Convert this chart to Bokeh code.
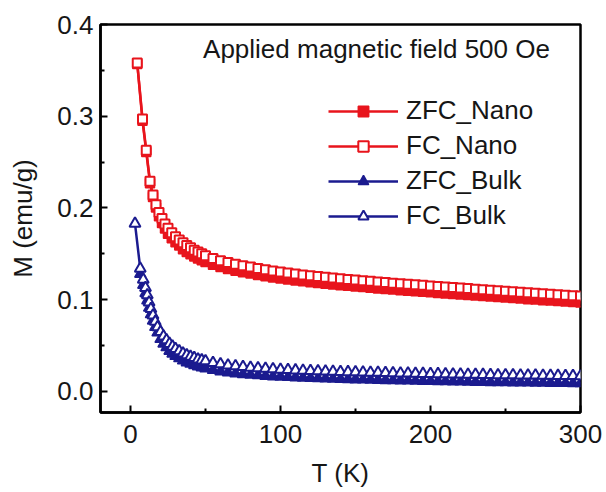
from bokeh.plotting import figure
from bokeh.models import Range1d, FixedTicker, Legend, LegendItem, Label, NumeralTickFormatter
from bokeh.embed import file_html
from bokeh.resources import INLINE

# ---------------- data ----------------
T_tail = [50, 55, 60, 65, 70, 75, 80, 85, 90, 95, 100, 105, 110, 115, 120, 125, 130, 135, 140, 145,
          150, 155, 160, 165, 170, 175, 180, 185, 190, 195, 200, 205, 210, 215, 220, 225, 230, 235,
          240, 245, 250, 255, 260, 265, 270, 275, 280, 285, 290, 295, 300]

T_nano = [4.5, 8, 10.5, 13, 15, 17, 19, 21, 23, 25, 27.5, 30, 32.5, 35, 37.5, 40, 42.5, 45, 47.5] + T_tail
zfc_nano = [0.357, 0.295, 0.261, 0.227, 0.212, 0.2005, 0.191, 0.1835, 0.1775, 0.172, 0.167, 0.1625,
            0.159, 0.155, 0.152, 0.1495, 0.147, 0.145, 0.143] + \
           [0.141, 0.138, 0.1355, 0.1335, 0.1315, 0.13, 0.1285, 0.127, 0.1255, 0.1243,
            0.1231, 0.122, 0.121, 0.12, 0.1191, 0.1182, 0.1174, 0.1166, 0.1158, 0.1151,
            0.1144, 0.1137, 0.113, 0.1123, 0.1117, 0.111, 0.1104, 0.1098, 0.1092, 0.1086,
            0.108, 0.1074, 0.1068, 0.1062, 0.1056, 0.1051, 0.1045, 0.1039, 0.1034, 0.1028,
            0.1023, 0.1017, 0.1012, 0.1006, 0.1001, 0.0995, 0.099, 0.0985, 0.0979, 0.0974,
            0.0969]
fc_nano = [0.358, 0.297, 0.263, 0.229, 0.214, 0.2035, 0.195, 0.1885, 0.1825, 0.178, 0.173, 0.1685,
           0.165, 0.162, 0.159, 0.1565, 0.154, 0.152, 0.150] + \
          [0.148, 0.145, 0.1425, 0.1405, 0.1385, 0.137, 0.1355, 0.134, 0.1325, 0.1313,
           0.1301, 0.129, 0.128, 0.127, 0.1261, 0.1252, 0.1244, 0.1236, 0.1228, 0.1221,
           0.1214, 0.1207, 0.12, 0.1193, 0.1187, 0.118, 0.1174, 0.1168, 0.1162, 0.1156,
           0.115, 0.1144, 0.1138, 0.1132, 0.1126, 0.1121, 0.1115, 0.1109, 0.1104, 0.1098,
           0.1093, 0.1087, 0.1082, 0.1076, 0.1071, 0.1065, 0.106, 0.1055, 0.1049, 0.1044,
           0.1039]

T_bulk_low = [6.5, 8.5, 10, 11.2, 12.4, 13.6, 15, 16.5, 18, 20, 22, 24, 26, 28, 30, 32.5, 35, 37.5,
              40, 42.5, 45, 47.5]
T_bulk_zfc = T_bulk_low + T_tail
T_bulk_fc = [3] + T_bulk_low + T_tail
zfc_bulk = [0.128, 0.116, 0.107, 0.099, 0.091, 0.084, 0.077, 0.070, 0.064, 0.057, 0.052, 0.048,
            0.044, 0.041, 0.0385, 0.036, 0.0335, 0.0315, 0.030, 0.0285, 0.027, 0.026] + \
           [0.025, 0.0232, 0.0217, 0.0205, 0.0195, 0.0187, 0.018, 0.0174, 0.0168, 0.0163,
            0.0159, 0.0155, 0.0151, 0.0148, 0.0145, 0.0142, 0.0139, 0.0137, 0.0134, 0.0132,
            0.013, 0.0128, 0.0126, 0.0124, 0.0122, 0.012, 0.0118, 0.0117, 0.0115, 0.0113,
            0.0112, 0.011, 0.0109, 0.0107, 0.0106, 0.0104, 0.0103, 0.0102, 0.01, 0.0099,
            0.0098, 0.0097, 0.0096, 0.0095, 0.0094, 0.0093, 0.0092, 0.0091, 0.009, 0.0089,
            0.0088]
fc_bulk = [0.183] + \
          [0.134, 0.122, 0.113, 0.105, 0.097, 0.090, 0.083, 0.076, 0.070, 0.065, 0.060, 0.056,
           0.052, 0.049, 0.0465, 0.044, 0.0415, 0.0395, 0.038, 0.0365, 0.035, 0.034] + \
          [0.033, 0.0312, 0.0297, 0.0285, 0.0275, 0.0267, 0.026, 0.0254, 0.0248, 0.0243,
           0.0239, 0.0235, 0.0231, 0.0228, 0.0225, 0.0222, 0.0219, 0.0217, 0.0214, 0.0212,
           0.021, 0.0208, 0.0206, 0.0204, 0.0202, 0.02, 0.0198, 0.0197, 0.0195, 0.0193,
           0.0192, 0.019, 0.0189, 0.0187, 0.0186, 0.0184, 0.0183, 0.0182, 0.018, 0.0179,
           0.0178, 0.0177, 0.0176, 0.0175, 0.0174, 0.0173, 0.0172, 0.0171, 0.017, 0.0169,
           0.0168]

x_ticks = [0, 100, 200, 300]
x_minor = [50, 150, 250]
y_ticks = [0.0, 0.1, 0.2, 0.3, 0.4]
y_minor = [0.05, 0.15, 0.25, 0.35]
labels = ["ZFC_Nano", "FC_Nano", "ZFC_Bulk", "FC_Bulk"]
annotation = "Applied magnetic field 500 Oe"

# ---------------- style ----------------
FONT = "Liberation Sans"
FS = "26px"
RED = "#e8141c"
BLUE = "#1b1b8f"
TXT = "#161616"

p = figure(width=604, height=490, x_range=Range1d(-20, 300), y_range=Range1d(-0.023, 0.4),
           output_backend="svg", toolbar_location=None,
           min_border_left=100, min_border_right=24, min_border_top=24, min_border_bottom=77)
p.background_fill_color = "white"
p.border_fill_color = "white"
p.xgrid.visible = False
p.ygrid.visible = False
p.outline_line_color = "black"
p.outline_line_width = 2.5
p.outline_line_alpha = 1.0

for ax in (p.xaxis[0], p.yaxis[0]):
    ax.axis_line_width = 2.5
    ax.axis_line_color = "black"
    ax.major_tick_in = 7
    ax.major_tick_out = 0
    ax.minor_tick_in = 4
    ax.minor_tick_out = 0
    ax.major_tick_line_width = 2
    ax.minor_tick_line_width = 2
    ax.major_label_text_font = FONT
    ax.major_label_text_font_size = FS
    ax.major_label_text_color = TXT
    ax.axis_label_text_font = FONT
    ax.axis_label_text_font_size = FS
    ax.axis_label_text_font_style = "normal"
    ax.axis_label_text_color = TXT

p.xaxis.ticker = FixedTicker(ticks=x_ticks, minor_ticks=x_minor)
p.yaxis.ticker = FixedTicker(ticks=y_ticks, minor_ticks=y_minor)
p.yaxis.formatter = NumeralTickFormatter(format="0.0")
p.xaxis.axis_label = "T (K)"
p.yaxis.axis_label = "M (emu/g)"
p.xaxis.major_label_standoff = 12
p.xaxis.axis_label_standoff = 12
p.yaxis.major_label_standoff = 7
p.yaxis.axis_label_standoff = 16

# ---------------- data glyphs ----------------
zn_l = p.line(T_nano, zfc_nano, line_color=RED, line_width=2.5)
zn_s = p.scatter(T_nano, zfc_nano, marker="square", size=9, fill_color=RED, line_color=RED, line_width=1.5)
fn_l = p.line(T_nano, fc_nano, line_color=RED, line_width=2.5)
fn_s = p.scatter(T_nano, fc_nano, marker="square", size=9, fill_color="white", line_color=RED, line_width=2)

zb_l = p.line(T_bulk_zfc, zfc_bulk, line_color=BLUE, line_width=2.5)
zb_s = p.scatter(T_bulk_zfc, zfc_bulk, marker="triangle", size=11, fill_color=BLUE, line_color=BLUE, line_width=1.5)
fb_l = p.line(T_bulk_fc, fc_bulk, line_color=BLUE, line_width=2.5)
fb_s = p.scatter(T_bulk_fc, fc_bulk, marker="triangle", size=11, fill_color="white", line_color=BLUE, line_width=2)

legend = Legend(items=[
    LegendItem(label=labels[0], renderers=[zn_l, zn_s]),
    LegendItem(label=labels[1], renderers=[fn_l, fn_s]),
    LegendItem(label=labels[2], renderers=[zb_l, zb_s]),
    LegendItem(label=labels[3], renderers=[fb_l, fb_s]),
], location=(228, 181), glyph_width=70, glyph_height=26, label_height=30, spacing=4,
    padding=0, margin=0, label_standoff=8, label_text_font=FONT, label_text_font_size=FS,
    label_text_color=TXT, border_line_color=None, background_fill_alpha=0)
p.add_layout(legend)

p.add_layout(Label(x=276, y=364, x_units="screen", y_units="screen", text=annotation,
                   text_align="center", text_baseline="middle", text_font=FONT,
                   text_font_size=FS, text_color=TXT))

open("out.html", "w").write(file_html(p, INLINE))
